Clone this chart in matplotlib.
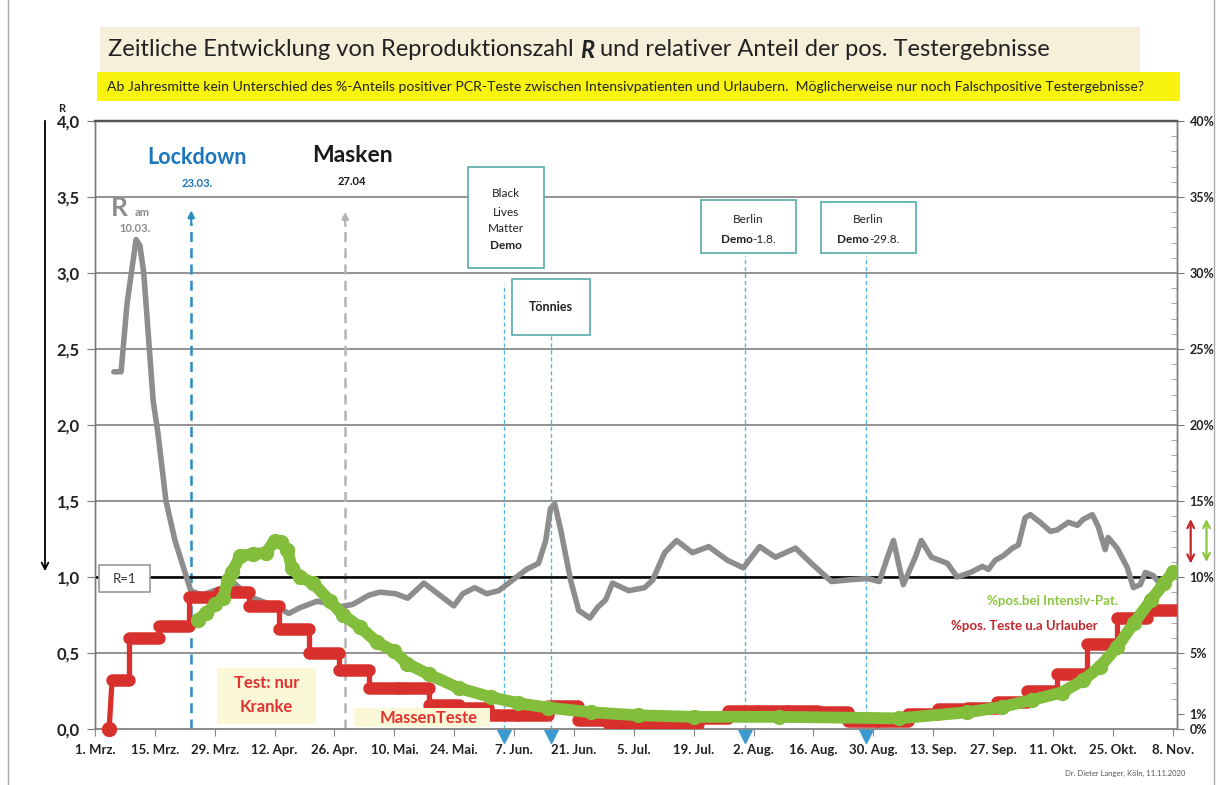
import matplotlib
matplotlib.use("Agg")
import matplotlib.pyplot as plt
import matplotlib.transforms as mtransforms
from matplotlib.patches import Rectangle
from matplotlib.ticker import MultipleLocator

plt.rcParams["font.family"] = ["Lato", "DejaVu Sans"]

W, H = 1224, 785

# x axis = days since 1 March 2020
tick_days = list(range(0, 253, 14))
tick_labels = ["1. Mrz.", "15. Mrz.", "29. Mrz.", "12. Apr.", "26. Apr.", "10. Mai.",
               "24. Mai.", "7. Jun.", "21. Jun.", "5. Jul.", "19. Jul.", "2. Aug.",
               "16. Aug.", "30. Aug.", "13. Sep.", "27. Sep.", "11. Okt.", "25. Okt.",
               "8. Nov."]

r_ticks = [0, 0.5, 1.0, 1.5, 2.0, 2.5, 3.0, 3.5, 4.0]
r_tick_labels = ["0,0", "0,5", "1,0", "1,5", "2,0", "2,5", "3,0", "3,5", "4,0"]
pct_ticks = [0, 1, 5, 10, 15, 20, 25, 30, 35, 40]
pct_tick_labels = ["0%", "1%", "5%", "10%", "15%", "20%", "25%", "30%", "35%", "40%"]

# reproduction number R (left axis)
r_days = [4.4, 6.1, 7.5, 9.6, 10.5, 11.4, 13.6, 14.7, 16.6, 18.7, 20.6, 22.4, 25, 27.8,
          30, 32.5, 35, 37.1, 40, 42.8, 45.3, 48.1, 51.9, 54, 56.5, 60.3, 64, 66.6,
          70.3, 73.1, 76.9, 79.7, 83.9, 86, 88.8, 91.6, 94.4, 97.2, 100.9, 103.7,
          105.4, 106.5, 107.5, 108.9, 111.2, 113.1, 115.7, 117.5, 119.4, 121, 124.8,
          128.5, 130.4, 133.2, 136, 139.7, 143.5, 147.9, 151.6, 155.4, 159.1, 163.8,
          167.5, 172.2, 175.9, 180.6, 183.4, 185.3, 186.7, 189, 191.8, 193.2, 195.6,
          199.3, 201.6, 204.7, 207.5, 208.9, 210.5, 212.4, 214.5, 215.9, 217.5, 218.7,
          221, 223.4, 225, 227.6, 229.7, 231.1, 233.2, 234.6, 236.2, 236.9, 239, 241.4,
          242.8, 244.4, 245.6, 247.4, 249.8]
r_values = [2.35, 2.35, 2.8, 3.22, 3.18, 3.0, 2.16, 1.95, 1.5, 1.24, 1.07, 0.91, 0.88, 0.91,
            0.92, 0.96, 0.9, 0.86, 0.83, 0.80, 0.76, 0.80, 0.84, 0.83, 0.80, 0.82, 0.88, 0.90,
            0.89, 0.86, 0.96, 0.90, 0.81, 0.89, 0.93, 0.89, 0.91, 0.97, 1.05, 1.09,
            1.24, 1.45, 1.48, 1.31, 0.98, 0.78, 0.73, 0.80, 0.85, 0.96, 0.91,
            0.93, 0.98, 1.16, 1.24, 1.16, 1.20, 1.11, 1.06, 1.20, 1.13, 1.19,
            1.09, 0.97, 0.98, 0.99, 0.97, 1.13, 1.24, 0.95, 1.13, 1.24, 1.13,
            1.09, 1.00, 1.03, 1.07, 1.05, 1.11, 1.14, 1.19, 1.21, 1.39, 1.41,
            1.36, 1.30, 1.31, 1.36, 1.34, 1.38, 1.41, 1.33, 1.18, 1.26, 1.19, 1.06,
            0.93, 0.95, 1.03, 1.01, 0.93]

# % positive tests incl. holiday travellers, weekly steps (right axis)
red_edges = [3.3, 4, 8, 15, 22, 29, 36, 43, 50, 57, 64, 71, 78, 85, 92, 99, 106, 113,
             120, 127, 134, 141, 148, 155, 162, 169, 176, 183, 190, 197, 204, 211,
             218, 225, 232, 239, 246, 253]
red_pct = [0, 3.2, 6.0, 6.8, 8.7, 9.0, 8.1, 6.6, 5.0, 3.9, 2.7, 2.7, 1.6, 1.4, 0.9, 0.9,
           1.5, 0.6, 0.4, 0.4, 0.35, 0.7, 1.2, 1.2, 1.2, 1.1, 0.5, 0.5, 1.0, 1.3, 1.4,
           1.8, 2.5, 3.6, 5.6, 7.3, 7.8]

# % positive among intensive care patients (right axis)
green_days = [24, 26, 28, 30, 31, 32, 34, 37, 40, 42, 43.5, 45, 46, 48, 51, 55, 58, 62,
              66, 70, 73, 78, 85, 92.5, 99, 106, 116, 127, 140, 160, 188, 204, 212, 219,
              226, 231, 235, 239, 243, 247, 250, 252]
green_pct = [7.2, 7.6, 8.2, 8.6, 9.8, 10.3, 11.4, 11.5, 11.6, 12.4, 12.3, 11.8, 10.6, 10.0,
             9.6, 8.4, 7.5, 6.7, 5.7, 5.1, 4.3, 3.6, 2.7, 2.1, 1.7, 1.4, 1.1, 0.9, 0.8,
             0.8, 0.7, 1.1, 1.45, 1.9, 2.4, 3.2, 4.1, 5.4, 7.0, 8.5, 9.6, 10.3]

# event markers (day, top of dotted line in R units)
event_days = [95.6, 106.6, 152, 180.3]
event_tops = [2.93, 2.59, 3.11, 3.11]

GRAY = "#8d8d8d"
RED = "#d8302c"
GREEN = "#82bd3c"
TEAL = "#62b2b0"
BLUE = "#2a8cc4"

fig = plt.figure(figsize=(W / 100, H / 100), dpi=100)
fig.patch.set_facecolor("white")


def fx(px):
    return px / W


def fy(py):
    return 1 - py / H


ax = fig.add_axes([fx(95), fy(729), (1177 - 95) / W, (729 - 121) / H])
ax2 = ax.twinx()

ax.set_xlim(0, 253)
ax.set_ylim(0, 4)
ax2.set_ylim(0, 40)

# grid + spines
for yv in r_ticks[1:-1]:
    ax.axhline(yv, color="#8a8a8a", lw=1.3, zorder=1)
for side, col, lw in [("left", "#7a7a7a", 1.0), ("right", "#7a7a7a", 1.0),
                      ("top", "#555555", 1.6), ("bottom", "#8a8a8a", 1.2)]:
    ax.spines[side].set_color(col)
    ax.spines[side].set_linewidth(lw)
    ax2.spines[side].set_color(col)
    ax2.spines[side].set_linewidth(lw)

ax.set_xticks(tick_days)
ax.set_xticklabels(tick_labels, fontsize=9.5, fontweight="bold", color="#222222")
ax.tick_params(axis="x", length=5, color="#888888", pad=6)
ax.set_yticks(r_ticks)
ax.set_yticklabels(r_tick_labels, fontsize=12, fontweight="bold", color="#222222")
ax.tick_params(axis="y", length=6, color="#777777", pad=5)

ax2.set_yticks(pct_ticks)
ax2.set_yticklabels(pct_tick_labels, fontsize=9, fontweight="bold", color="#222222")
ax2.yaxis.set_minor_locator(MultipleLocator(1))
ax2.tick_params(axis="y", which="major", length=5, color="#777777", pad=4)
ax2.tick_params(axis="y", which="minor", direction="in", length=4, color="#999999")

# R = 1 reference line
ax.hlines(1.0, 0, 250.5, color="black", lw=1.8, zorder=3)

# lockdown / masks arrows
ax.plot([22.5, 22.5], [0, 3.33], color=BLUE, lw=1.8, ls=(0, (4, 2.5)), zorder=2)
ax.annotate("", xy=(22.5, 3.43), xytext=(22.5, 3.30),
            arrowprops=dict(arrowstyle="-|>", color=BLUE, lw=1.5, mutation_scale=10))
ax.plot([58.5, 58.5], [0, 3.32], color="#b4b4b4", lw=1.8, ls=(0, (4, 2.5)), zorder=2)
ax.annotate("", xy=(58.5, 3.42), xytext=(58.5, 3.29),
            arrowprops=dict(arrowstyle="-|>", color="#b4b4b4", lw=1.5, mutation_scale=10))

# event dotted lines with triangles below the axis
for d, top in zip(event_days, event_tops):
    ax.plot([d, d], [0, top], color="#5ab4e0", lw=1.0, ls=(0, (3, 2)), zorder=2)
ax.plot(event_days, [-0.045] * len(event_days), ls="none", marker="v", ms=10,
        color="#3b9ad0", clip_on=False, zorder=5)

# R series
ax.plot(r_days, r_values, color=GRAY, lw=4.0, solid_joinstyle="round",
        solid_capstyle="round", zorder=4)

# red step series
ax2.stairs(red_pct[1:], red_edges[1:], baseline=None, color=RED, lw=3.8, zorder=3)
ax2.plot([red_edges[0], red_edges[1]], [0, red_pct[1]], color=RED, lw=3.8, zorder=3)
ax2.hlines(red_pct[1:], red_edges[1:-1], red_edges[2:], color=RED, lw=9,
           capstyle="round", zorder=3)
ax2.plot([red_edges[0]], [red_pct[0]], marker="o", ms=10, color=RED, clip_on=False,
         zorder=4)

# green series
ax2.plot(green_days, green_pct, color=GREEN, lw=8.5, solid_capstyle="round",
         solid_joinstyle="round", marker="o", ms=10, zorder=4)

tr = ax.transData


def box(x0, x1, y0, y1, fc="white", ec=TEAL, lw=1.3):
    ax2.add_patch(Rectangle((x0, y0), x1 - x0, y1 - y0, transform=tr, fc=fc, ec=ec,
                            lw=lw, zorder=6))


def mixed(x, y, runs, transform, fontsize, color):
    r = fig.canvas.get_renderer()
    texts = [ax2.text(x, y, s, transform=transform, ha="left", va="center",
                      fontsize=fontsize, color=color, fontweight=wgt, fontstyle=sty,
                      zorder=8)
             for s, wgt, sty in runs]
    widths = [t.get_window_extent(r).width for t in texts]
    off = -sum(widths) / 2
    for t, w in zip(texts, widths):
        t.set_transform(mtransforms.offset_copy(transform, fig=fig, x=off, y=0,
                                                units="dots"))
        off += w


# event boxes
box(87.2, 104.9, 3.03, 3.70)
for txt, yy, wgt in [("Black", 3.52, "normal"), ("Lives", 3.40, "normal"),
                     ("Matter", 3.29, "normal"), ("Demo", 3.18, "bold")]:
    ax2.text(96.1, yy, txt, transform=tr, ha="center", va="center", fontsize=8.5,
             fontweight=wgt, color="#222222", zorder=8)
box(97.5, 115.7, 2.59, 2.96)
ax2.text(106.6, 2.775, "Tönnies", transform=tr, ha="center", va="center", fontsize=9,
         fontweight="bold", color="#222222", zorder=8)
box(141.7, 163.9, 3.13, 3.48)
ax2.text(152.8, 3.35, "Berlin", transform=tr, ha="center", va="center", fontsize=8.5,
         color="#222222", zorder=8)
mixed(152.8, 3.22, [("Demo", "bold", "normal"), ("-1.8.", "normal", "normal")], tr,
      8.5, "#222222")
box(169.7, 192.0, 3.13, 3.47)
ax2.text(180.8, 3.35, "Berlin", transform=tr, ha="center", va="center", fontsize=8.5,
         color="#222222", zorder=8)
mixed(180.8, 3.22, [("Demo", "bold", "normal"), ("-29.8.", "normal", "normal")], tr,
      8.5, "#222222")

# R=1 label box
box(1.0, 12.9, 0.90, 1.08, ec="#9a9a9a", lw=1.2)
ax2.text(6.9, 0.99, "R=1", transform=tr, ha="center", va="center", fontsize=9.5,
         color="#333333", zorder=8)

# test regime labels
box(28.5, 51.7, 0.03, 0.40, fc="#fbf8d8", ec="none")
ax2.text(40.1, 0.30, "Test: nur", transform=tr, ha="center", va="center", fontsize=12,
         fontweight="bold", color="#e0322e", zorder=8)
ax2.text(40.1, 0.145, "Kranke", transform=tr, ha="center", va="center", fontsize=12,
         fontweight="bold", color="#e0322e", zorder=8)
box(60.6, 92.4, 0.013, 0.14, fc="#fbf8d8", ec="none")
ax2.text(77.9, 0.07, "MassenTeste", transform=tr, ha="center", va="center", fontsize=12,
         fontweight="bold", color="#e0322e", zorder=8)

# event headings
ax2.text(23.8, 3.76, "Lockdown", transform=tr, ha="center", va="center", fontsize=15.5,
         fontweight="bold", color="#1b75bc", zorder=8)
ax2.text(23.8, 3.59, "23.03.", transform=tr, ha="center", va="center", fontsize=8,
         fontweight="bold", color="#1b75bc", zorder=8)
ax2.text(60.1, 3.77, "Masken", transform=tr, ha="center", va="center", fontsize=16.5,
         fontweight="bold", color="#1a1a1a", zorder=8)
ax2.text(60.1, 3.60, "27.04", transform=tr, ha="center", va="center", fontsize=8,
         fontweight="bold", color="#1a1a1a", zorder=8)
ax2.text(3.8, 3.43, "R", transform=tr, ha="left", va="center", fontsize=19,
         fontweight="bold", color=GRAY, zorder=8)
ax2.text(9.2, 3.40, "am", transform=tr, ha="left", va="center", fontsize=8,
         fontweight="bold", color=GRAY, zorder=8)
ax2.text(9.4, 3.29, "10.03.", transform=tr, ha="center", va="center", fontsize=8,
         fontweight="bold", color=GRAY, zorder=8)

# series labels
ax2.text(223.8, 0.84, "%pos.bei Intensiv-Pat.", transform=tr, ha="center", va="center",
         fontsize=9.5, fontweight="bold", color="#8cc63f", zorder=8)
ax2.text(217.2, 0.68, "%pos. Teste u.a Urlauber", transform=tr, ha="center",
         va="center", fontsize=9.5, fontweight="bold", color="#c1272d", zorder=8)

# double arrows right of the axis
ax2.annotate("", xy=(256.2, 1.40), xytext=(256.2, 1.07), xycoords=tr, textcoords=tr,
             annotation_clip=False,
             arrowprops=dict(arrowstyle="<->", color="#c1272d", lw=1.6, mutation_scale=12))
ax2.annotate("", xy=(259.9, 1.40), xytext=(259.9, 1.08), xycoords=tr, textcoords=tr,
             annotation_clip=False,
             arrowprops=dict(arrowstyle="<->", color="#8cc63f", lw=1.6, mutation_scale=12))

# left arrow + R axis label
fig.add_artist(matplotlib.patches.FancyArrowPatch(
    (fx(45), fy(118)), (fx(45), fy(574)), transform=fig.transFigure,
    arrowstyle="->", mutation_scale=12, color="black", lw=1.3))
fig.text(fx(62), fy(108), "R", fontsize=8, fontweight="bold", ha="center", va="center",
         color="#222222")

# title + subtitle boxes
fig.add_artist(Rectangle((fx(100), fy(72)), (1140 - 100) / W, 45 / H,
                         transform=fig.transFigure, fc="#f6f0da", ec="none"))
fig.add_artist(Rectangle((fx(97), fy(101)), (1180 - 97) / W, 29 / H,
                         transform=fig.transFigure, fc="#f8f40e", ec="none"))
r = fig.canvas.get_renderer()
parts = [("Zeitliche Entwicklung von Reproduktionszahl ", "normal", "normal"),
         ("R", "bold", "italic"),
         (" und relativer Anteil der pos. Testergebnisse", "normal", "normal")]
xpos = 108
for s, wgt, sty in parts:
    t = fig.text(fx(xpos), fy(50), s, fontsize=17, fontweight=wgt, fontstyle=sty,
                 ha="left", va="center", color="#222222")
    xpos += t.get_window_extent(r).width
fig.text(fx(107), fy(87),
         "Ab Jahresmitte kein Unterschied des %-Anteils positiver PCR-Teste zwischen "
         "Intensivpatienten und Urlaubern.  Möglicherweise nur noch Falschpositive "
         "Testergebnisse?", fontsize=10.1, ha="left", va="center", color="#222222")

fig.text(fx(1125), fy(773), "Dr. Dieter Langer, Köln, 11.11.2020", fontsize=5.5,
         ha="center", va="center", color="#555555")

# page border lines
fig.add_artist(matplotlib.lines.Line2D([fx(8), fx(8)], [0, 1], color="#aaaaaa", lw=1))
fig.add_artist(matplotlib.lines.Line2D([fx(1214), fx(1214)], [0, 1], color="#aaaaaa",
                                       lw=1))

fig.savefig("out.png", dpi=100)
